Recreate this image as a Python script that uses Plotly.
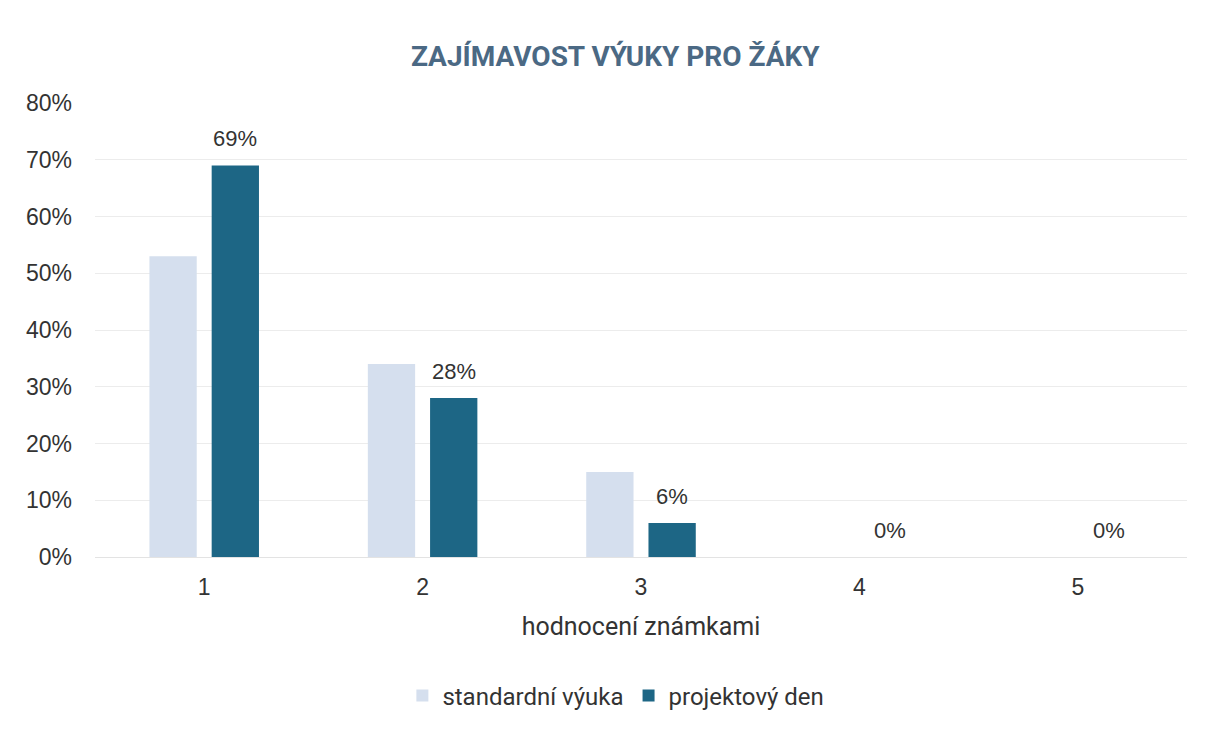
import plotly.graph_objects as go

categories = ["1", "2", "3", "4", "5"]
standard = [0.53, 0.34, 0.15, 0.0, 0.0]
projekt = [0.69, 0.28, 0.06, 0.0, 0.0]
projekt_labels = ["69%", "28%", "6%", "0%", "0%"]
y_ticks = [0, 0.1, 0.2, 0.3, 0.4, 0.5, 0.6, 0.7, 0.8]
y_tick_text = ["0%", "10%", "20%", "30%", "40%", "50%", "60%", "70%", "80%"]

NUM_FONT = "Liberation Sans, Arial"
TXT_FONT = "Roboto"

fig = go.Figure()
fig.add_trace(go.Bar(
    x=categories, y=standard, name="standardní výuka",
    marker=dict(color="#d5dfee", line=dict(width=0)),
))
fig.add_trace(go.Bar(
    x=categories, y=projekt, name="projektový den",
    marker=dict(color="#1d6685", line=dict(width=0)),
))

# data labels for projektový den, placed above its bars (bar offset within group)
for i, (val, lab) in enumerate(zip(projekt, projekt_labels)):
    fig.add_annotation(
        x=i, y=val, text=lab, showarrow=False,
        xanchor="center", yanchor="bottom", xshift=31, yshift=12,
        font=dict(family=NUM_FONT, size=22, color="#333333"),
    )

fig.update_layout(
    width=1205, height=730,
    paper_bgcolor="white", plot_bgcolor="white",
    margin=dict(l=87, r=26, t=95, b=181, autoexpand=False),
    barmode="group", bargap=0.43, bargroupgap=0.24,
    title=dict(
        text="<b>ZAJÍMAVOST VÝUKY PRO ŽÁKY</b>",
        x=0.504, xanchor="center", y=0.934, yanchor="middle",
        font=dict(family=TXT_FONT, size=28, color="#4b6984"),
    ),
    xaxis=dict(
        type="category", range=[-0.5, len(categories) - 0.5],
        title=dict(text="hodnocení známkami", standoff=18,
                   font=dict(family=TXT_FONT, size=25, color="#333333")),
        tickfont=dict(family=NUM_FONT, size=23, color="#333333"),
        showline=False, showgrid=False, ticks="", ticklabelstandoff=14,
        automargin=False,
    ),
    yaxis=dict(
        range=[0, 0.8], tickvals=y_ticks, ticktext=y_tick_text,
        tickfont=dict(family=NUM_FONT, size=23, color="#333333"),
        showgrid=True, gridcolor="#ececec", gridwidth=1,
        zeroline=True, zerolinecolor="#e3e3e3", zerolinewidth=1,
        ticks="", ticklabelstandoff=22, automargin=False,
    ),
    legend=dict(
        orientation="h", x=0.477, xanchor="center", y=-0.306, yanchor="middle",
        font=dict(family=TXT_FONT, size=24, color="#333333"),
        itemwidth=30, traceorder="normal",
    ),
    showlegend=True,
)

fig.write_html("out.html")
